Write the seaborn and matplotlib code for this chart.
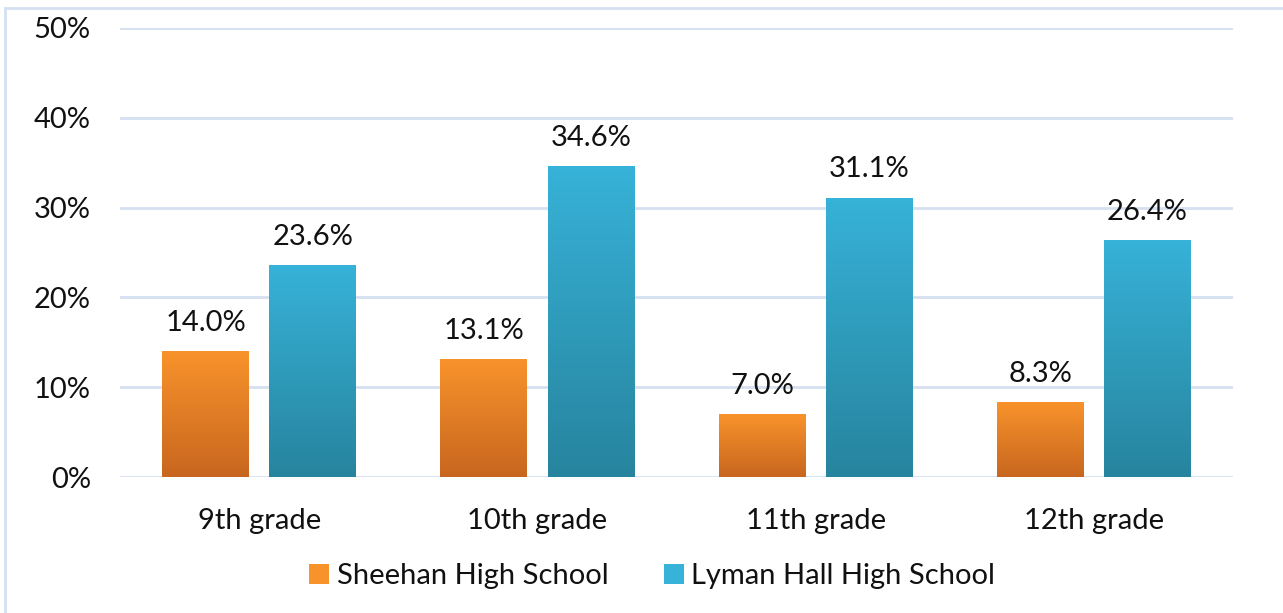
"""Grouped bar chart: share of students by grade, two high schools."""

import matplotlib.pyplot as plt
import numpy as np
import pandas as pd
import seaborn as sns
from matplotlib.colors import LinearSegmentedColormap
from matplotlib.patches import Rectangle

GRADES = ["9th grade", "10th grade", "11th grade", "12th grade"]
SCHOOLS = ["Sheehan High School", "Lyman Hall High School"]
SHEEHAN = [14.0, 13.1, 7.0, 8.3]
LYMAN_HALL = [23.6, 34.6, 31.1, 26.4]
Y_TICKS = [0, 10, 20, 30, 40, 50]

# top colour, bottom colour of each bar gradient
GRADIENTS = {
    "Sheehan High School": ("#F8932B", "#C8661F"),
    "Lyman Hall High School": ("#37B2D8", "#27849E"),
}
GRID_COLOR = "#D6E0F0"
FONT = ["Lato", "DejaVu Sans"]
FONT_SIZE = 21

data = pd.DataFrame(
    {
        "grade": GRADES * 2,
        "school": [SCHOOLS[0]] * len(GRADES) + [SCHOOLS[1]] * len(GRADES),
        "value": SHEEHAN + LYMAN_HALL,
    }
)

sns.set_theme(style="white")
plt.rcParams["font.family"] = FONT

fig = plt.figure(figsize=(12.83, 6.13), dpi=100)
ax = fig.add_axes([120 / 1283, 136 / 613, 1113 / 1283, 449 / 613])

palette = {school: GRADIENTS[school][0] for school in SCHOOLS}
sns.barplot(
    data=data,
    x="grade",
    y="value",
    hue="school",
    order=GRADES,
    hue_order=SCHOOLS,
    palette=palette,
    width=0.77,
    gap=0.19,
    saturation=1,
    errorbar=None,
    legend=False,
    ax=ax,
    zorder=3,
)

# paint each bar with a vertical gradient clipped to the seaborn patch
gradient = np.linspace(0, 1, 256).reshape(-1, 1)
for container, school in zip(ax.containers, SCHOOLS):
    top, bottom = GRADIENTS[school]
    cmap = LinearSegmentedColormap.from_list(school, [bottom, top])
    for bar in container:
        x0, y0 = bar.get_x(), bar.get_y()
        w, h = bar.get_width(), bar.get_height()
        bar.set_facecolor("none")
        bar.set_edgecolor("none")
        img = ax.imshow(
            gradient,
            extent=(x0, x0 + w, y0, y0 + h),
            origin="lower",
            cmap=cmap,
            aspect="auto",
            zorder=3,
        )
        img.set_clip_path(bar)
    ax.bar_label(
        container,
        labels=[f"{v:.1f}%" for v in container.datavalues],
        padding=11,
        fontsize=FONT_SIZE,
        fontfamily=FONT,
        color="#111111",
    )
ax.set_xlim(-0.5, len(GRADES) - 0.5)
ax.set_ylim(0, 50)

for y in Y_TICKS:
    ax.axhline(y, color=GRID_COLOR, linewidth=2, zorder=1)

ax.set_yticks(Y_TICKS)
ax.set_yticklabels([f"{t}%" for t in Y_TICKS], fontsize=FONT_SIZE)
ax.tick_params(axis="y", length=0, pad=21, labelcolor="#111111")
ax.tick_params(axis="x", length=0, pad=22, labelsize=FONT_SIZE, labelcolor="#111111")
ax.set_xlabel("")
ax.set_ylabel("")
sns.despine(ax=ax, left=True, bottom=True)

handles = [
    Rectangle((0, 0), 1, 1, facecolor=GRADIENTS[s][0], edgecolor="none")
    for s in SCHOOLS
]
fig.legend(
    handles,
    SCHOOLS,
    loc="center",
    bbox_to_anchor=(652 / 1283, 1 - 576 / 613),
    ncol=2,
    frameon=False,
    fontsize=FONT_SIZE,
    labelcolor="#111111",
    handlelength=0.7,
    handleheight=0.7,
    handletextpad=0.25,
    columnspacing=1.9,
)

fig.patches.append(
    Rectangle(
        (5 / 1283, -0.01),
        1.02,
        1 - 8 / 613 + 0.01,
        transform=fig.transFigure,
        fill=False,
        edgecolor=GRID_COLOR,
        linewidth=2,
    )
)

fig.savefig("out.png", dpi=100)
